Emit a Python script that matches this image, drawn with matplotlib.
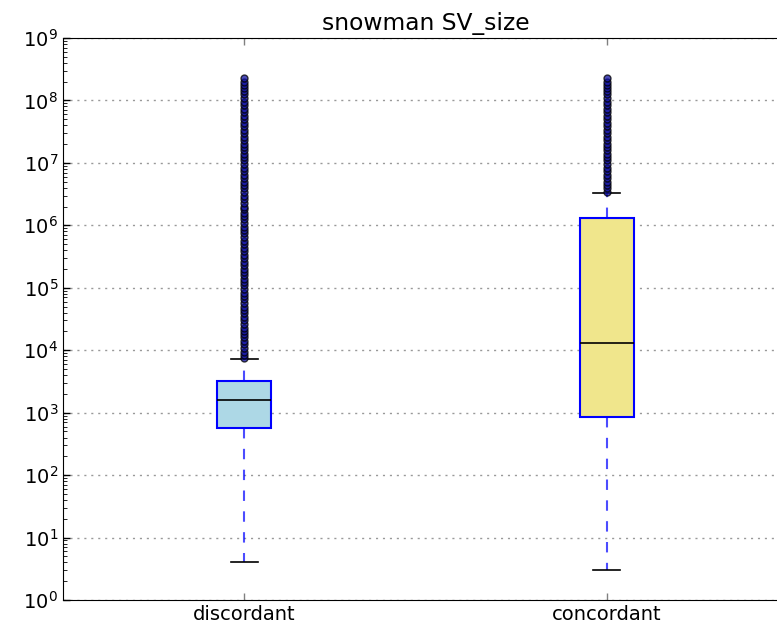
import numpy as np
import matplotlib
matplotlib.use('Agg')
import matplotlib.pyplot as plt

# values (log y axis)
categories = ['discordant', 'concordant']
box_colors = ['lightblue', 'khaki']
whislo = [4, 3]
q1 = [570, 860]
med = [1600, 13000]
q3 = [3240, 1.32e6]
whishi = [7300, 3.3e6]
fliers_discordant = [7.5e3, 8.5e3, 9.5e3, 1.1e4, 1.25e4, 1.4e4, 1.6e4, 1.8e4, 2e4, 2.3e4, 2.6e4,
                     3e4, 3.4e4, 3.9e4, 4.4e4, 5e4, 5.7e4, 6.5e4, 7.4e4, 8.4e4, 9.5e4,
                     1.1e5, 1.25e5, 1.4e5, 1.6e5, 1.8e5, 2e5, 2.3e5, 2.6e5, 3e5, 3.4e5, 3.9e5,
                     4.4e5, 5e5, 5.7e5, 6.5e5, 7.4e5, 8.4e5, 9.5e5,
                     1.1e6, 1.25e6, 1.4e6, 1.6e6, 1.8e6, 2e6, 2.3e6, 2.6e6, 3e6, 3.4e6, 3.9e6,
                     4.4e6, 5e6, 5.7e6, 6.5e6, 7.4e6, 8.4e6, 9.5e6,
                     1.1e7, 1.25e7, 1.4e7, 1.6e7, 1.8e7, 2e7, 2.3e7, 2.6e7, 3e7, 3.4e7, 3.9e7,
                     4.4e7, 5e7, 5.7e7, 6.5e7, 7.4e7, 8.4e7, 9.5e7,
                     1.1e8, 1.25e8, 1.4e8, 1.6e8, 1.8e8, 2e8, 2.3e8]
fliers_concordant = [3.4e6, 3.9e6, 4.4e6, 5e6, 5.7e6, 6.5e6, 7.4e6, 8.4e6, 9.5e6,
                     1.1e7, 1.25e7, 1.4e7, 1.6e7, 1.8e7, 2e7, 2.3e7, 2.6e7, 3e7, 3.4e7, 3.9e7,
                     4.4e7, 5e7, 5.7e7, 6.5e7, 7.4e7, 8.4e7, 9.5e7,
                     1.1e8, 1.25e8, 1.4e8, 1.6e8, 1.8e8, 2e8, 2.3e8]
fliers = [fliers_discordant, fliers_concordant]

stats = []
for i, name in enumerate(categories):
    stats.append(dict(label=name, whislo=whislo[i], q1=q1[i], med=med[i], q3=q3[i],
                      whishi=whishi[i], fliers=np.array(fliers[i])))

plt.rcParams['font.family'] = 'DejaVu Sans'
plt.rcParams['font.size'] = 14
plt.rcParams['xtick.direction'] = 'in'
plt.rcParams['ytick.direction'] = 'in'
plt.rcParams['xtick.top'] = True
plt.rcParams['ytick.right'] = True
plt.rcParams['mathtext.default'] = 'regular'

fig = plt.figure(figsize=(7.77, 6.32), dpi=100)
ax = fig.add_axes([63/777, 1 - 600/632, 725/777, 562/632])

bp = ax.bxp(stats, widths=0.15, patch_artist=True,
            boxprops=dict(edgecolor='blue', linewidth=1.5),
            medianprops=dict(color='black', linewidth=1.2),
            whiskerprops=dict(color='blue', linestyle='--', linewidth=1.5, alpha=0.7,
                              dashes=(5, 5)),
            capprops=dict(color='black', linewidth=1.2),
            flierprops=dict(marker='o', markerfacecolor='#1010a0', markeredgecolor='black',
                            markersize=5, alpha=0.75, linestyle='none'))
for patch, c in zip(bp['boxes'], box_colors):
    patch.set_facecolor(c)

ax.set_yscale('log')
ax.set_ylim(1, 1e9)
ax.set_xlim(0.5, 2.5)
ax.set_xticks([1, 2])
ax.set_xticklabels(categories)
ax.yaxis.grid(True, which='major', color='0.6', linewidth=1, dashes=(1.5, 3.5))
ax.spines['right'].set_visible(False)
ax.tick_params(which='major', length=5, width=1, colors='black')
ax.tick_params(axis='x', length=5, color='0.5')
ax.tick_params(which='minor', length=3)
ax.set_title('snowman SV_size', fontsize=16.8)

plt.savefig('out.png', dpi=100)
plt.close()
